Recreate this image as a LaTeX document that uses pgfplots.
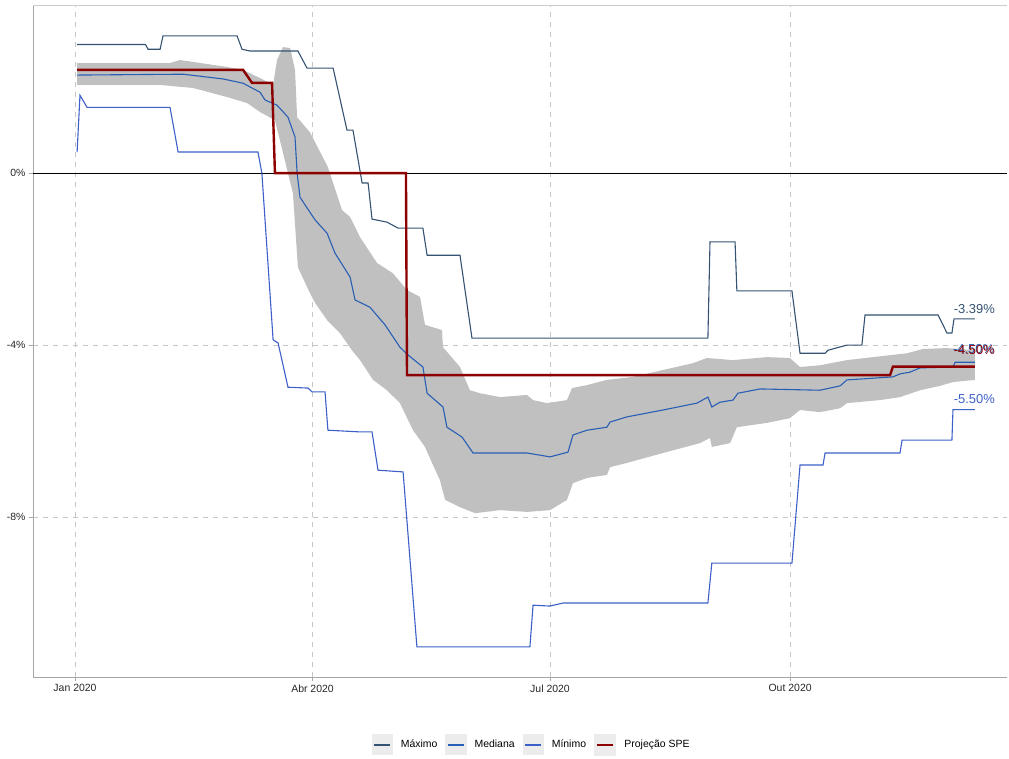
\documentclass[border=0pt]{standalone}
\usepackage{fontspec}
\setmainfont{Liberation Sans}
\usepackage{pgfplots}
\pgfplotsset{compat=1.18}
\usepgfplotslibrary{fillbetween}
\definecolor{cmax}{RGB}{52,83,115}
\definecolor{cmed}{RGB}{40,95,180}
\definecolor{cmin}{RGB}{60,95,200}
\definecolor{cspe}{RGB}{140,0,0}
\definecolor{cband}{RGB}{192,192,192}

\begin{document}
\begin{tikzpicture}
\begin{axis}[
  scale only axis, width=974bp, height=672bp,
  xmin=-16.1, xmax=357.1, ymin=-11.72, ymax=3.91,
  axis x line*=bottom, axis y line*=left,
  axis line style={gray!70, line width=0.6bp},
  xtick={0,91,182,274}, xticklabels={Jan 2020,Abr 2020,Jul 2020,Out 2020},
  ytick={-8,-4,0}, yticklabels={-8\%,-4\%,0\%},
  tick align=outside, major tick length=4bp,
  tick style={gray!70, line width=0.6bp},
  ticklabel style={font=\fontsize{10.5}{12}\selectfont, text=gray!30!black},
  xmajorgrids, ymajorgrids,
  grid style={gray!45, dash pattern=on 5bp off 5bp, line width=0.6bp},
  legend columns=4,
  legend style={at={(0.512,-0.101)}, anchor=center, draw=none, fill=none,
    font=\fontsize{10.5}{12}\selectfont,
    /tikz/every odd column/.append style={column sep=6bp},
    /tikz/every even column/.append style={column sep=6bp}},
  legend image code/.code={\fill[gray!15] (0bp,-10bp) rectangle (20bp,10bp);
    \draw[#1,line width=2.2bp] (2bp,0bp) -- (18bp,0bp);},
]
% faixa cinza (intervalo das projecoes)
\addplot[name path=up, draw=none, forget plot] coordinates {
(0.8,2.56) (36.4,2.56) (40.2,2.63) (58.2,2.47) (64.4,2.40) (70.9,2.21) (75.9,2.05)
(77.4,2.63) (79.7,2.93) (82.4,2.91) (82.8,2.81) (84.3,2.40) (85.1,1.30) (90,0.95)
(96.9,0.14) (102.3,-0.86) (105.4,-1.02) (109.2,-1.49) (115.7,-2.09) (121.8,-2.33)
(127.2,-2.72) (132.2,-2.88) (134.1,-3.53) (140.6,-3.65) (141,-4.05) (147.5,-4.51)
(151.3,-5.05) (155.2,-5.12) (162.8,-5.21) (173.2,-5.16) (175.5,-5.28) (180.8,-5.35)
(188.5,-5.28) (190.4,-5.0) (196.2,-4.93) (203.8,-4.81) (213.8,-4.74) (225.3,-4.58)
(236.8,-4.42) (242.1,-4.30) (252.1,-4.35) (265.1,-4.28) (273.9,-4.30) (277.8,-4.51)
(285.4,-4.47) (295.8,-4.35) (305.7,-4.28) (318.8,-4.19) (324.9,-4.09) (334.1,-4.07)
(344.8,-4.12)};
\addplot[name path=lo, draw=none, forget plot] coordinates {
(0.8,2.05) (32.6,2.05) (45.2,1.98) (58.2,1.77) (65.9,1.63) (70.9,1.42) (76.6,1.23)
(79.7,0.47) (83.5,-0.47) (85.4,-2.19) (90,-2.79) (92,-3.02) (96.6,-3.42) (101.5,-3.72)
(106.1,-4.12) (109.2,-4.35) (114.2,-4.81) (119.5,-5.05) (124.5,-5.35) (129.5,-5.98)
(134.1,-6.37) (136.8,-6.74) (139.8,-7.14) (141.8,-7.60) (147.5,-7.77) (153.3,-7.91)
(162.8,-7.84) (173.2,-7.88) (182,-7.84) (188.5,-7.60) (190.8,-7.21) (196.2,-7.09)
(203.8,-7.02) (205,-6.84) (211.5,-6.74) (225.3,-6.51) (239.5,-6.28) (243.3,-6.16)
(244,-6.37) (251,-6.28) (253.6,-5.91) (265.1,-5.81) (273.9,-5.70) (277.8,-5.51)
(285.4,-5.56) (293.1,-5.47) (295.8,-5.35) (308.4,-5.28) (316.1,-5.21) (323.8,-5.05)
(331.4,-4.95) (336.4,-4.86) (344.8,-4.81)};
\addplot[cband, forget plot] fill between[of=up and lo];
% linha do zero
\addplot[black, line width=0.8bp, forget plot] coordinates {(-16.1,0) (357.1,0)};
% Maximo
\addplot[cmax, line width=1.1bp] coordinates {
(0.8,2.99) (27,2.99) (28,2.88) (32.6,2.88) (33.7,3.19) (62.1,3.19) (64,2.88) (67,2.84)
(85.4,2.84) (88.9,2.44) (98.9,2.44) (104.2,1.0) (106.5,1.0) (110,-0.23) (112.3,-0.23)
(113.8,-1.07) (119.5,-1.14) (123.8,-1.28) (133.3,-1.28) (134.9,-1.91) (147.5,-1.91)
(152.1,-3.84) (242.5,-3.84) (243.3,-1.60) (252.9,-1.60) (253.6,-2.74) (274.7,-2.74)
(277.8,-4.19) (287.4,-4.19) (288.5,-4.12) (295.8,-4.0) (301.5,-4.0) (302.7,-3.30)
(330.7,-3.30) (334.1,-3.72) (336,-3.72) (336.8,-3.39) (344.8,-3.39)};
\addlegendentry{Máximo}
% Mediana
\addplot[cmed, line width=1.1bp] coordinates {
(0.8,2.28) (41.4,2.30) (56.7,2.19) (64.4,2.09) (70.9,1.88) (72.8,1.70) (77.4,1.58)
(81.6,1.30) (84.3,0.84) (85.1,0) (86.2,-0.56) (90,-0.91) (92,-1.09) (96.6,-1.40)
(99.6,-1.86) (105.4,-2.42) (107.3,-2.95) (113,-3.12) (118.8,-3.53) (124.5,-4.05)
(127.6,-4.23) (133.3,-4.51) (134.9,-5.12) (141,-5.44) (142.5,-5.91) (148.3,-6.14)
(152.5,-6.51) (173.2,-6.51) (182,-6.60) (188.9,-6.49) (190.8,-6.09) (196.2,-5.98)
(203.8,-5.91) (205,-5.79) (211.5,-5.67) (225.3,-5.51) (238.3,-5.35) (242.5,-5.21)
(244,-5.44) (247.1,-5.33) (252.1,-5.28) (254,-5.12) (262.5,-5.02) (285.4,-5.05)
(293.1,-4.95) (295.8,-4.81) (313.4,-4.74) (316.1,-4.67) (319.9,-4.63) (323.8,-4.53)
(336.4,-4.51) (337.2,-4.40) (344.8,-4.40)};
\addlegendentry{Mediana}
% Minimo
\addplot[cmin, line width=1.1bp] coordinates {
(0.8,0.49) (1.9,1.81) (4.6,1.53) (36.4,1.53) (39.5,0.49) (70.1,0.49) (71.6,0)
(75.9,-3.88) (77.8,-3.95) (81.6,-4.98) (89.3,-5.0) (90.8,-5.09) (95.8,-5.09)
(96.9,-5.98) (109.2,-6.02) (113.8,-6.02) (116.1,-6.91) (125.7,-6.95) (131,-11.02)
(174.3,-11.02) (175.5,-10.05) (182,-10.07) (187,-10.0) (242.5,-10.0) (244,-9.07)
(274.7,-9.07) (277.8,-6.79) (286.6,-6.79) (287.4,-6.51) (316.1,-6.51) (316.9,-6.21)
(336,-6.21) (336.4,-5.50) (344.8,-5.50)};
\addlegendentry{Mínimo}
% Projecao SPE
\addplot[cspe, line width=2.4bp] coordinates {
(0.8,2.40) (64.4,2.40) (67.8,2.10) (75.5,2.10) (76.6,0) (126.8,0) (127.2,-4.70)
(312.3,-4.70) (313.4,-4.50) (344.8,-4.50)};
\addlegendentry{Projeção SPE}
\draw[gray!40, line width=0.8bp] (rel axis cs:0,1) -- (rel axis cs:1,1);
\node[text=cmax, font=\fontsize{13}{14}\selectfont, inner sep=0bp, yshift=10bp] at (axis cs:344.6,-3.39) {-3.39\%};
\node[text=cmed, font=\fontsize{13}{14}\selectfont, inner sep=0bp, yshift=13bp, xshift=-0.8bp] at (axis cs:344.6,-4.40) {-4.50\%};
\node[text=cspe, font=\fontsize{13}{14}\selectfont, inner sep=0bp, yshift=16.5bp] at (axis cs:344.6,-4.50) {-4.50\%};
\node[text=cmin, font=\fontsize{13}{14}\selectfont, inner sep=0bp, yshift=10.5bp] at (axis cs:344.6,-5.50) {-5.50\%};
\end{axis}
\path (-33bp,-78bp) rectangle (976bp,677bp);
\end{tikzpicture}
\end{document}
